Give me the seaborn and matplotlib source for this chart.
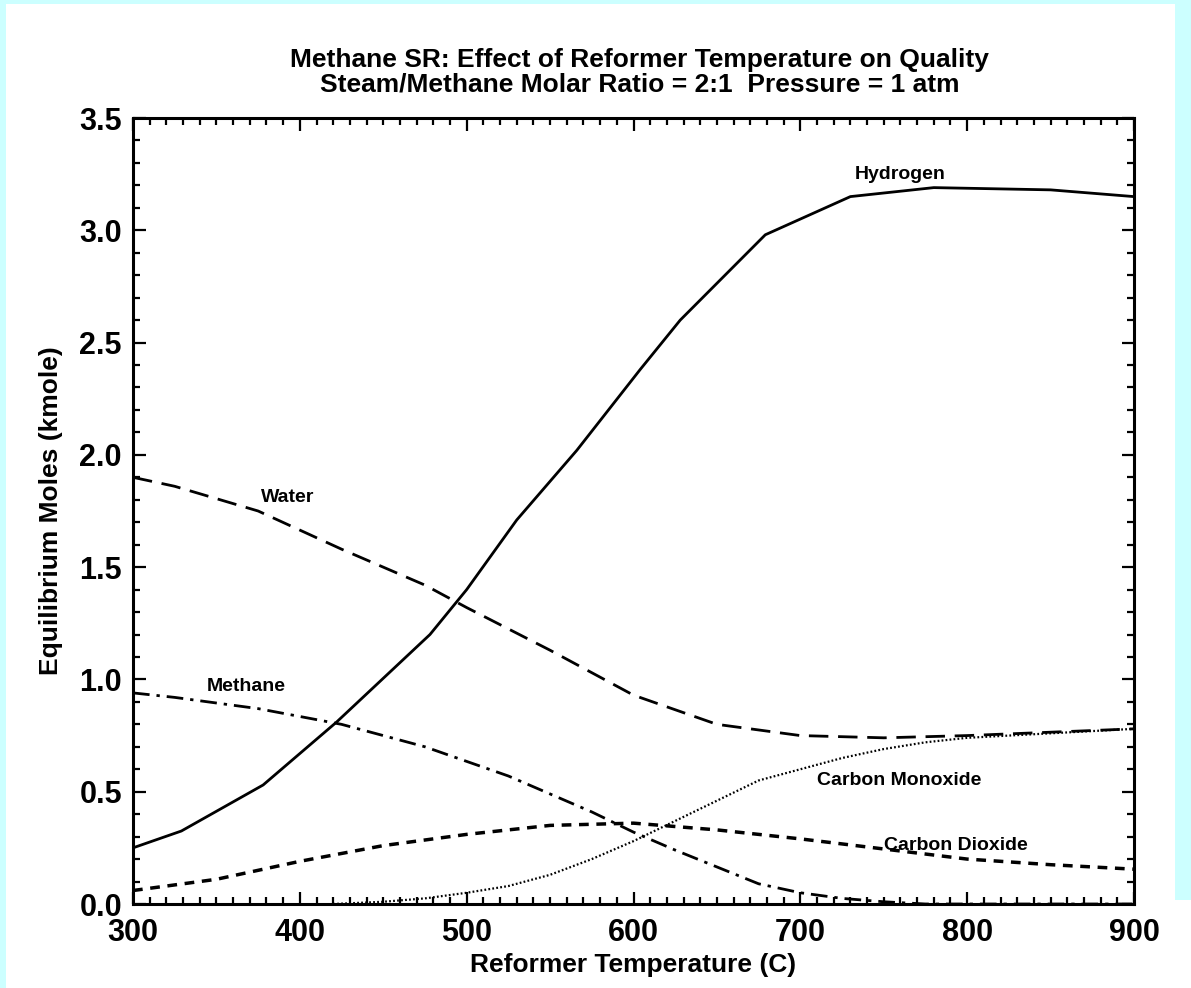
import numpy as np
import pandas as pd
import matplotlib
matplotlib.use('Agg')
import matplotlib.pyplot as plt
from matplotlib.patches import Rectangle
from matplotlib.ticker import MultipleLocator, FormatStrFormatter
import seaborn as sns

# values
h2_temp = [300, 329, 378, 422, 478, 500, 530, 566, 604, 628, 679, 730, 780, 850, 900]
h2_moles = [0.25, 0.325, 0.53, 0.81, 1.20, 1.40, 1.71, 2.02, 2.38, 2.60, 2.98, 3.15, 3.19, 3.18, 3.15]

water_temp = [300, 325, 375, 425, 475, 500, 550, 600, 650, 700, 750, 800, 850, 900]
water_moles = [1.90, 1.86, 1.75, 1.58, 1.42, 1.32, 1.13, 0.93, 0.80, 0.75, 0.74, 0.75, 0.765, 0.78]

ch4_temp = [300, 325, 375, 425, 475, 525, 575, 600, 625, 650, 675, 700, 725, 750, 775, 900]
ch4_moles = [0.94, 0.92, 0.87, 0.80, 0.70, 0.57, 0.41, 0.32, 0.24, 0.165, 0.09, 0.05, 0.025, 0.01, 0.0, 0.0]

co2_temp = [300, 350, 400, 450, 500, 550, 600, 650, 700, 750, 800, 850, 900]
co2_moles = [0.06, 0.11, 0.19, 0.26, 0.31, 0.35, 0.36, 0.33, 0.29, 0.245, 0.20, 0.175, 0.155]

co_temp = [420, 450, 475, 500, 525, 550, 575, 600, 625, 650, 675, 700, 725, 750, 775, 800, 850, 900]
co_moles = [0.0, 0.01, 0.025, 0.05, 0.08, 0.13, 0.20, 0.28, 0.37, 0.46, 0.55, 0.60, 0.65, 0.69, 0.72, 0.74, 0.76, 0.78]

# label name, temp, moles
curve_labels = [('Hydrogen', 760, 3.25), ('Water', 393, 1.81), ('Methane', 368, 0.97),
                ('Carbon Monoxide', 759, 0.55), ('Carbon Dioxide', 793, 0.26)]

sns.set_style('ticks')
plt.rcParams['font.family'] = ['Liberation Sans', 'DejaVu Sans']
plt.rcParams.update({'text.color': 'black', 'axes.labelcolor': 'black',
                     'xtick.color': 'black', 'ytick.color': 'black'})

fig = plt.figure(figsize=(11.91, 9.88), dpi=100, facecolor='#ccffff')
# white paper inside the cyan frame
fig.patches.append(Rectangle((6/1191, 0), (1175-6)/1191, 1-4/988, transform=fig.transFigure,
                             facecolor='white', edgecolor='none', zorder=-1))
fig.patches.append(Rectangle((1170/1191, 0), 21/1191, 88/988, transform=fig.transFigure,
                             facecolor='white', edgecolor='none', zorder=-1))
ax = fig.add_axes([133/1191, 1-904/988, (1134-133)/1191, (904-118)/988])

lw = 2.0
sns.lineplot(x=h2_temp, y=h2_moles, ax=ax, color='black', lw=lw)
sns.lineplot(x=water_temp, y=water_moles, ax=ax, color='black', lw=lw)
sns.lineplot(x=ch4_temp, y=ch4_moles, ax=ax, color='black', lw=lw)
sns.lineplot(x=co2_temp, y=co2_moles, ax=ax, color='black', lw=lw + 0.5)
sns.lineplot(x=co_temp, y=co_moles, ax=ax, color='black', lw=1.6)
lines = ax.get_lines()
lines[1].set_dashes((7, 3.5))
lines[2].set_dashes((6, 2.5, 1.2, 2.5))
lines[3].set_dashes((2.8, 2.2))
lines[4].set_dashes((0.8, 1.0))

for name, t, m in curve_labels:
    ax.text(t, m, name, ha='center', va='center', fontsize=14, fontweight='bold')

ax.set_xlim(300, 900)
ax.set_ylim(0, 3.5)
ax.xaxis.set_major_locator(MultipleLocator(100))
ax.xaxis.set_minor_locator(MultipleLocator(10))
ax.yaxis.set_major_locator(MultipleLocator(0.5))
ax.yaxis.set_minor_locator(MultipleLocator(0.1))
ax.yaxis.set_major_formatter(FormatStrFormatter('%.1f'))
ax.tick_params(which='both', direction='in', top=True, right=True, width=1.6)
ax.tick_params(which='major', length=9, labelsize=22)
ax.tick_params(axis='x', which='major', pad=10)
ax.tick_params(axis='y', which='major', pad=8)
ax.tick_params(which='minor', length=5)
for lab in ax.get_xticklabels() + ax.get_yticklabels():
    lab.set_fontweight('bold')
for side in ax.spines.values():
    side.set_linewidth(2.2)
    side.set_color('black')

ax.set_xlabel('Reformer Temperature (C)', fontsize=19, fontweight='bold', labelpad=4)
ax.set_ylabel('Equilibrium Moles (kmole)', fontsize=19, fontweight='bold', labelpad=12)
fig.text(0.537, 1-60/988, 'Methane SR: Effect of Reformer Temperature on Quality',
         ha='center', va='center', fontsize=19, fontweight='bold')
fig.text(0.537, 1-85/988, 'Steam/Methane Molar Ratio = 2:1  Pressure = 1 atm',
         ha='center', va='center', fontsize=19, fontweight='bold')

fig.savefig('out.png', dpi=100, facecolor=fig.get_facecolor())
